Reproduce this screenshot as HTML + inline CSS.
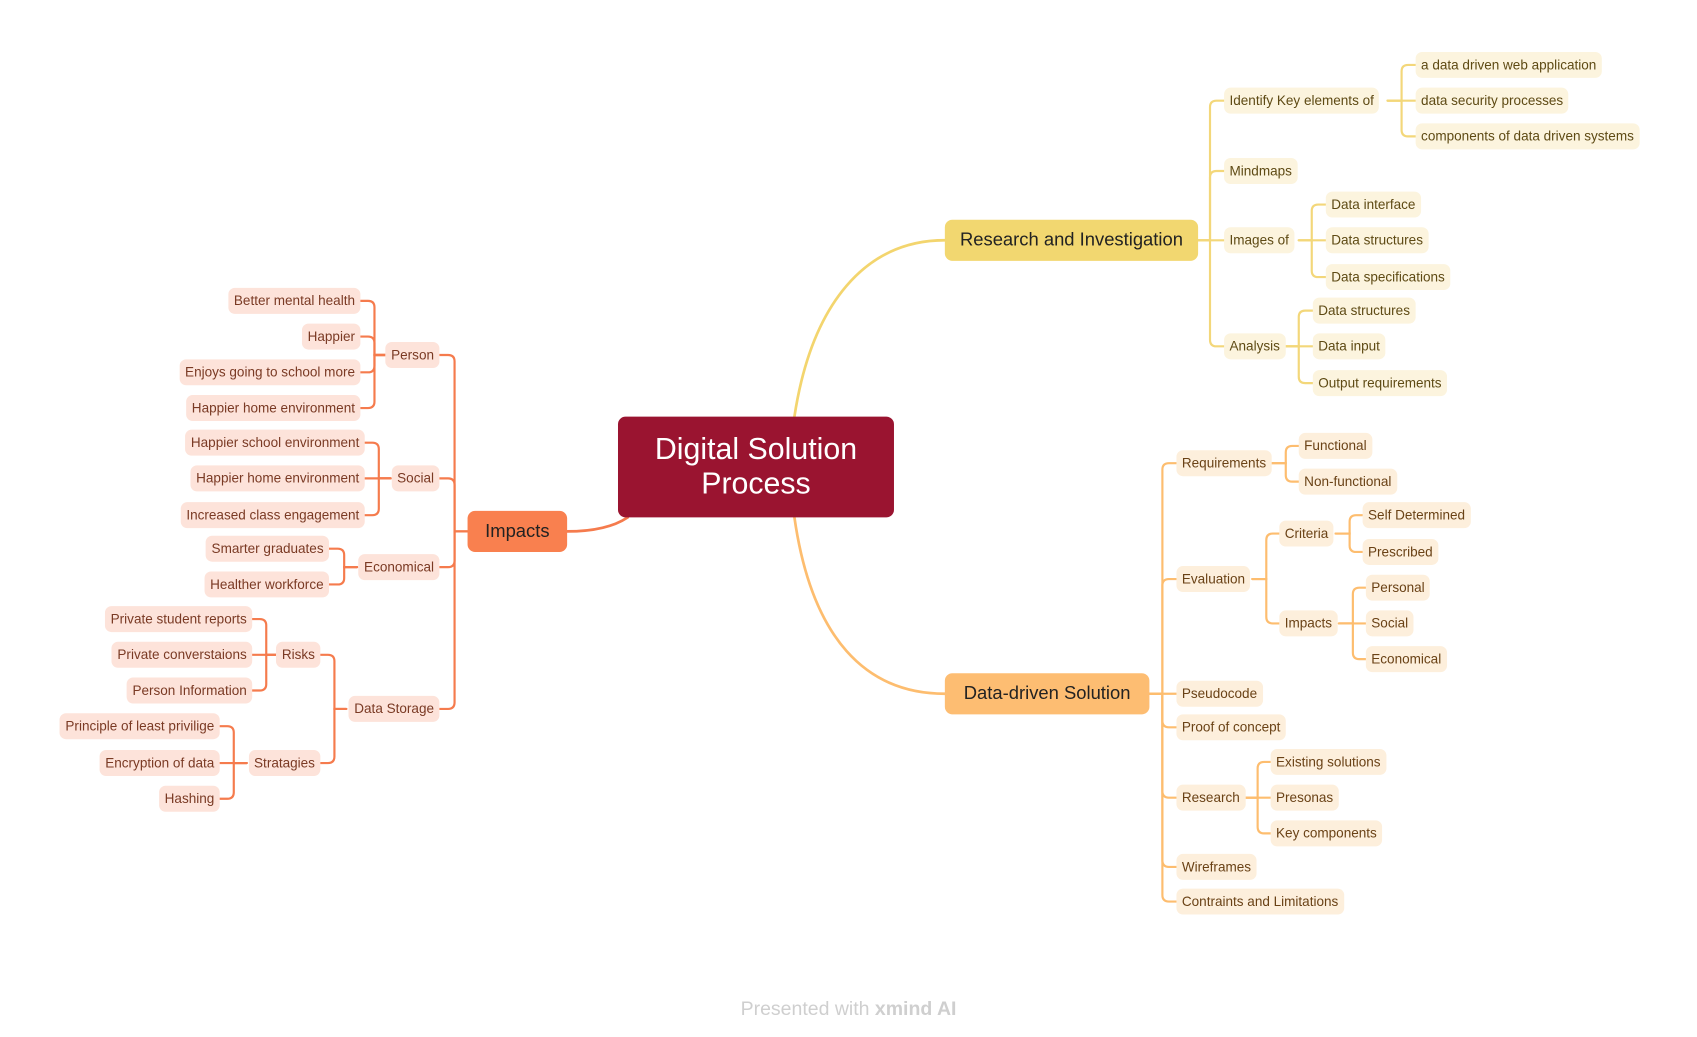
<!DOCTYPE html>
<html><head><meta charset="utf-8">
<style>
html,body{margin:0;padding:0;background:#fff;width:1697px;height:1036px;overflow:hidden}
#w{position:absolute;left:0;top:0;width:1568px;height:958px;transform:scale(1.0823);transform-origin:0 0;font-family:"Liberation Sans",sans-serif}
.n{position:absolute;height:24px;line-height:24px;padding:0 5px;border-radius:6px;font-size:12.5px;white-space:nowrap;transform:translateY(-50%)}
.y{background:#fcf4de;color:#5e4a14}
.o{background:#fdefdc;color:#6a4216}
.r{background:#fde3da;color:#7a3a24}
.m{position:absolute;border-radius:7px;font-size:17px;color:#222;text-align:center;line-height:38px;height:38px}
svg{position:absolute;left:0;top:0}
</style></head><body><div id="w">
<svg id="s" width="1568" height="958" fill="none" stroke-linecap="round">
<path d="M734 385 C750 280 800 222 873 222" stroke="#f3d56e" stroke-width="2.5"/>
<path d="M734 478 C750 590 800 641 873 641" stroke="#fdbd6f" stroke-width="2.5"/>
<path d="M580 478 C565 488 545 491 524 491" stroke="#f57b4d" stroke-width="2.5"/>
</svg>
<div class="m" style="left:571px;top:385px;width:255px;height:93px;background:#9a1430;color:#fff;font-size:28px;line-height:32px;padding-top:14px;box-sizing:border-box">Digital Solution<br>Process</div>
<div class="m" style="left:873px;top:203px;width:234px;background:#f2d770">Research and Investigation</div>
<div class="m" style="left:873px;top:622px;width:189px;background:#fdbd72">Data-driven Solution</div>
<div class="m" style="left:432px;top:472px;width:92px;background:#f9804f">Impacts</div>

<div class="n y" style="left:1131px;top:93px">Identify Key elements of</div>
<div class="n y" style="left:1131px;top:158px">Mindmaps</div>
<div class="n y" style="left:1131px;top:222px">Images of</div>
<div class="n y" style="left:1131px;top:320px">Analysis</div>
<div class="n y" style="left:1308px;top:60px">a data driven web application</div>
<div class="n y" style="left:1308px;top:93px">data security processes</div>
<div class="n y" style="left:1308px;top:126px">components of data driven systems</div>
<div class="n y" style="left:1225px;top:189px">Data interface</div>
<div class="n y" style="left:1225px;top:222px">Data structures</div>
<div class="n y" style="left:1225px;top:256px">Data specifications</div>
<div class="n y" style="left:1213px;top:287px">Data structures</div>
<div class="n y" style="left:1213px;top:320px">Data input</div>
<div class="n y" style="left:1213px;top:354px">Output requirements</div>

<div class="n o" style="left:1087px;top:428px">Requirements</div>
<div class="n o" style="left:1087px;top:535px">Evaluation</div>
<div class="n o" style="left:1087px;top:641px">Pseudocode</div>
<div class="n o" style="left:1087px;top:672px">Proof of concept</div>
<div class="n o" style="left:1087px;top:737px">Research</div>
<div class="n o" style="left:1087px;top:801px">Wireframes</div>
<div class="n o" style="left:1087px;top:833px">Contraints and Limitations</div>
<div class="n o" style="left:1200px;top:412px">Functional</div>
<div class="n o" style="left:1200px;top:445px">Non-functional</div>
<div class="n o" style="left:1182px;top:493px">Criteria</div>
<div class="n o" style="left:1182px;top:576px">Impacts</div>
<div class="n o" style="left:1259px;top:476px">Self Determined</div>
<div class="n o" style="left:1259px;top:510px">Prescribed</div>
<div class="n o" style="left:1262px;top:543px">Personal</div>
<div class="n o" style="left:1262px;top:576px">Social</div>
<div class="n o" style="left:1262px;top:609px">Economical</div>
<div class="n o" style="left:1174px;top:704px">Existing solutions</div>
<div class="n o" style="left:1174px;top:737px">Presonas</div>
<div class="n o" style="left:1174px;top:770px">Key components</div>

<div class="n r" style="right:1162px;top:328px">Person</div>
<div class="n r" style="right:1162px;top:442px">Social</div>
<div class="n r" style="right:1162px;top:524px">Economical</div>
<div class="n r" style="right:1162px;top:655px">Data Storage</div>
<div class="n r" style="right:1235px;top:278px">Better mental health</div>
<div class="n r" style="right:1235px;top:311px">Happier</div>
<div class="n r" style="right:1235px;top:344px">Enjoys going to school more</div>
<div class="n r" style="right:1235px;top:377px">Happier home environment</div>
<div class="n r" style="right:1231px;top:409px">Happier school environment</div>
<div class="n r" style="right:1231px;top:442px">Happier home environment</div>
<div class="n r" style="right:1231px;top:476px">Increased class engagement</div>
<div class="n r" style="right:1264px;top:507px">Smarter graduates</div>
<div class="n r" style="right:1264px;top:540px">Healther workforce</div>
<div class="n r" style="right:1272px;top:605px">Risks</div>
<div class="n r" style="right:1272px;top:705px">Stratagies</div>
<div class="n r" style="right:1335px;top:572px">Private student reports</div>
<div class="n r" style="right:1335px;top:605px">Private converstaions</div>
<div class="n r" style="right:1335px;top:638px">Person Information</div>
<div class="n r" style="right:1365px;top:671px">Principle of least privilige</div>
<div class="n r" style="right:1365px;top:705px">Encryption of data</div>
<div class="n r" style="right:1365px;top:738px">Hashing</div>

<div style="position:absolute;left:0;width:1568px;top:922px;text-align:center;font-size:18px;color:#cfcfcf">Presented with <b>xmind AI</b></div>
</div>
<script>
var s=document.getElementById('s');
function g(px,py,lx,cx,ys,col,dir){
 ys.forEach(function(cy){
  var r=6,d;
  if(Math.abs(cy-py)<1){d='M'+px+' '+py+' H'+cx;}
  else{var sg=cy>py?1:-1;d='M'+px+' '+py+' H'+lx+' V'+(cy-sg*r)+' Q'+lx+' '+cy+' '+(lx+dir*r)+' '+cy+' H'+cx;}
  var p=document.createElementNS('http://www.w3.org/2000/svg','path');
  p.setAttribute('d',d);p.setAttribute('stroke',col);p.setAttribute('stroke-width','2');p.setAttribute('fill','none');s.appendChild(p);
 });
}
var Y='#f3d77a',O='#fdbd6f',R='#f57b4d';
g(1107,222,1118,1131,[93,158,222,320],Y,1);
g(1282,93,1295,1308,[60,93,126],Y,1);
g(1200,222,1212,1225,[189,222,256],Y,1);
g(1188,320,1200,1213,[287,320,354],Y,1);
g(1062,641,1074,1087,[428,535,641,672,737,801,833],O,1);
g(1175,428,1188,1200,[412,445],O,1);
g(1157,535,1170,1182,[493,576],O,1);
g(1234,493,1247,1259,[476,510],O,1);
g(1237,576,1250,1262,[543,576,609],O,1);
g(1149,737,1162,1174,[704,737,770],O,1);
g(432,491,420,406,[328,442,524,655],R,-1);
g(358,328,346,333,[278,311,344,377],R,-1);
g(361,442,350,337,[409,442,476],R,-1);
g(330,524,318,304,[507,540],R,-1);
g(320,655,309,296,[605,705],R,-1);
g(257,605,246,233,[572,605,638],R,-1);
g(228,705,216,203,[671,705,738],R,-1);
</script>
</body></html>
